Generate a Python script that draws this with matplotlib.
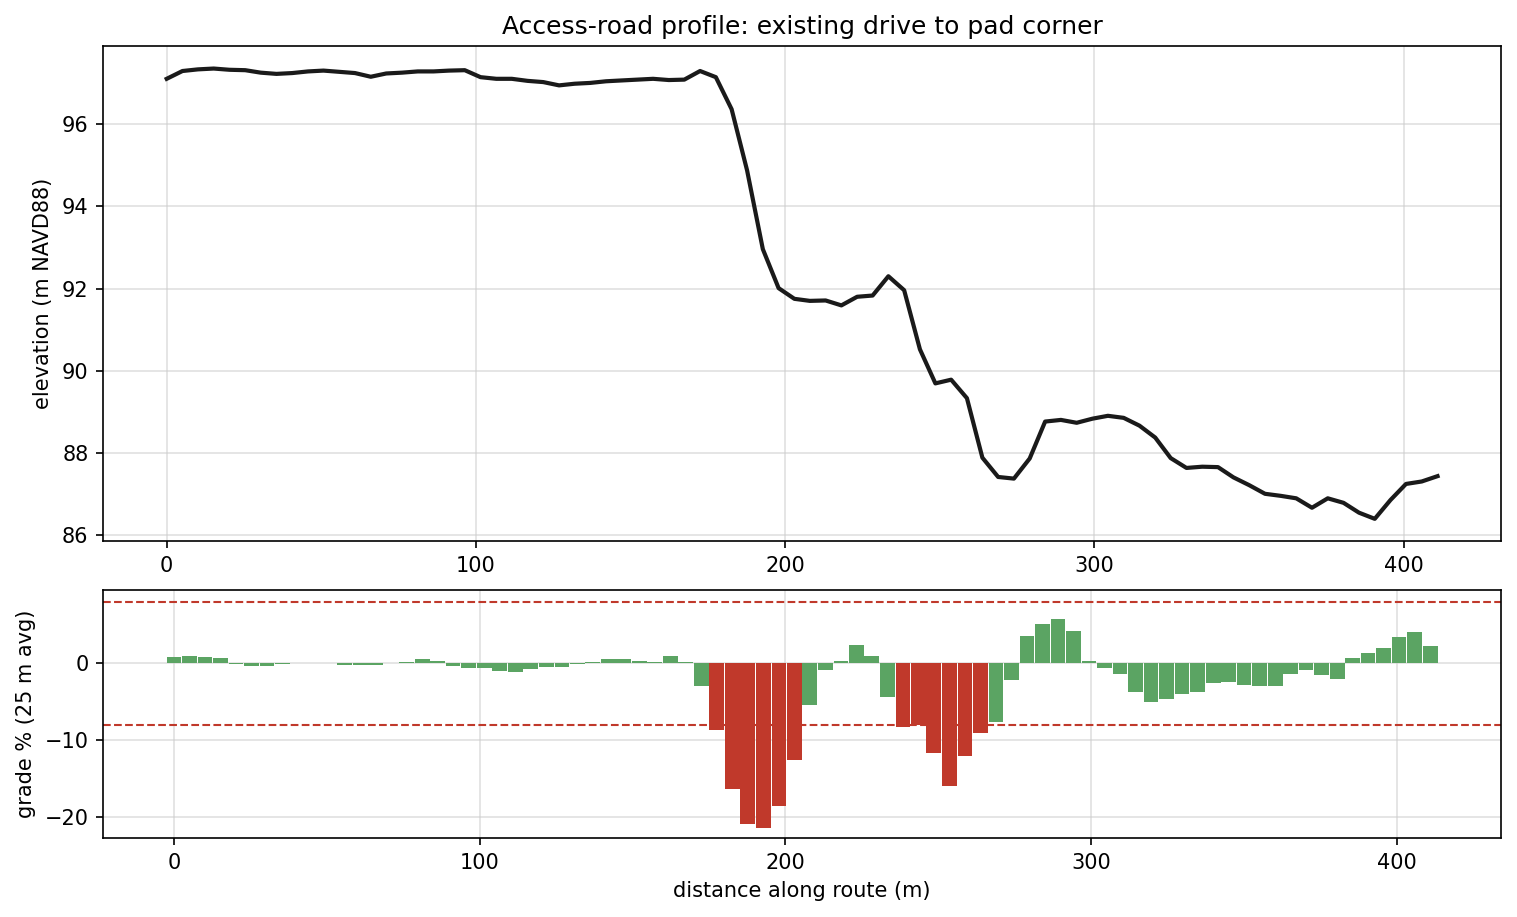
import numpy as np
import matplotlib
matplotlib.use("Agg")
import matplotlib.pyplot as plt
from matplotlib.ticker import MultipleLocator

# distance along route (m), one sample every ~5 m
distance = [0.0, 5.1, 10.1, 15.2, 20.3, 25.4, 30.4, 35.5, 40.6, 45.7,
            50.7, 55.8, 60.9, 66.0, 71.0, 76.1, 81.2, 86.3, 91.3, 96.4,
            101.5, 106.6, 111.6, 116.7, 121.8, 126.9, 131.9, 137.0, 142.1, 147.1,
            152.2, 157.3, 162.4, 167.4, 172.5, 177.6, 182.7, 187.7, 192.8, 197.9,
            203.0, 208.0, 213.1, 218.2, 223.3, 228.3, 233.4, 238.5, 243.6, 248.6,
            253.7, 258.8, 263.8, 268.9, 274.0, 279.1, 284.1, 289.2, 294.3, 299.4,
            304.4, 309.5, 314.6, 319.7, 324.7, 329.8, 334.9, 340.0, 345.0, 350.1,
            355.2, 360.3, 365.3, 370.4, 375.5, 380.6, 385.6, 390.7, 395.8, 400.8,
            405.9, 411.0]

# elevation (m NAVD88)
elevation = [97.11, 97.30, 97.34, 97.36, 97.33, 97.32, 97.26, 97.23, 97.25, 97.29,
             97.31, 97.28, 97.25, 97.16, 97.24, 97.26, 97.29, 97.29, 97.31, 97.32,
             97.15, 97.11, 97.11, 97.06, 97.03, 96.95, 96.99, 97.01, 97.05, 97.07,
             97.09, 97.11, 97.08, 97.09, 97.30, 97.15, 96.37, 94.88, 92.96, 92.01,
             91.75, 91.70, 91.71, 91.59, 91.80, 91.83, 92.30, 91.96, 90.52, 89.69,
             89.78, 89.33, 87.88, 87.41, 87.37, 87.86, 88.76, 88.80, 88.73, 88.83,
             88.90, 88.85, 88.66, 88.37, 87.87, 87.63, 87.66, 87.65, 87.40, 87.21,
             87.00, 86.95, 86.89, 86.66, 86.89, 86.78, 86.54, 86.39, 86.85, 87.24,
             87.30, 87.43]

# grade % (25 m moving average)
grade = [0.78, 0.91, 0.78, 0.65, -0.13, -0.39, -0.39, -0.13, 0.03, 0.03,
         -0.03, -0.26, -0.26, -0.26, 0.03, 0.13, 0.52, 0.26, -0.39, -0.65,
         -0.65, -1.04, -1.17, -0.78, -0.52, -0.52, -0.13, 0.13, 0.52, 0.52,
         0.26, 0.13, 0.91, 0.13, -2.99, -8.72, -16.4, -20.95, -21.47, -18.6,
         -12.62, -5.47, -0.91, 0.26, 2.34, 0.91, -4.43, -8.33, -8.11, -11.71,
         -16.0, -12.1, -9.11, -7.68, -2.21, 3.51, 5.08, 5.73, 4.16, 0.26,
         -0.65, -1.43, -3.77, -5.08, -4.69, -4.03, -3.77, -2.60, -2.47, -2.86,
         -2.99, -2.99, -1.43, -0.91, -1.56, -2.08, 0.65, 1.30, 1.95, 3.38,
         4.03, 2.21]

grade_limit = 8.0
ok_color = "#5ba463"
bad_color = "#c0392b"

fig, (ax1, ax2) = plt.subplots(2, 1, figsize=(1517 / 150, 917 / 150), dpi=150,
                               gridspec_kw={"height_ratios": [2, 1]})
fig.subplots_adjust(left=0.068, right=0.9895, top=0.9498, bottom=0.0861, hspace=0.132)

ax1.plot(distance, elevation, color="#1a1a1a", lw=2.0)
ax1.set_ylabel("elevation (m NAVD88)")
ax1.set_title("Access-road profile: existing drive to pad corner")
ax1.grid(True, color="#cccccc", alpha=0.6, lw=0.8)

g = np.array(grade)
colors = [bad_color if abs(v) > grade_limit else ok_color for v in g]
ax2.bar(distance, g, width=4.82, color=colors)
ax2.axhline(grade_limit, color=bad_color, ls="--", lw=1.0)
ax2.axhline(-grade_limit, color=bad_color, ls="--", lw=1.0)
ax2.set_ylim(-22.8, 9.5)
ax2.yaxis.set_major_locator(MultipleLocator(10))
ax2.set_ylabel("grade % (25 m avg)")
ax2.set_xlabel("distance along route (m)")
ax2.grid(True, color="#cccccc", alpha=0.6, lw=0.8)
ax2.set_axisbelow(True)

fig.savefig("out.png", dpi=150)
